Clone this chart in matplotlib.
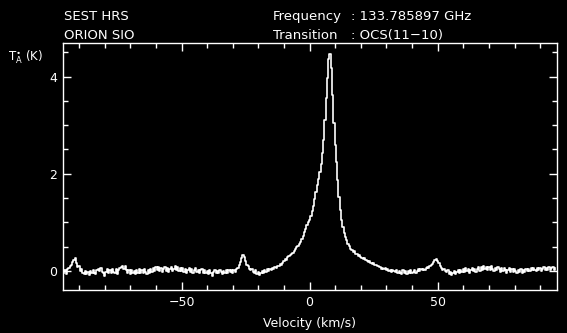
import numpy as np
import matplotlib.pyplot as plt
from matplotlib.ticker import MultipleLocator

# OCS(11-10) spectrum towards Orion, SEST HRS backend
# channel grid: 0.5 km/s starting at -96 km/s
v_start = -96.0
dv = 0.5

ta = [
    -0.05, 0.03, -0.06, 0.04, 0.07, 0.10, 0.13, 0.18, 0.22, 0.26,
    0.16, 0.08, 0.10, 0.00, 0.04, -0.05, -0.07, 0.01, -0.06, -0.02,
    -0.08, 0.01, -0.05, 0.03, -0.04, -0.07, 0.02, 0.05, 0.00, 0.06,
    -0.01, -0.05, -0.11, -0.02, 0.04, -0.03, 0.03, -0.05, 0.05, -0.01,
    -0.04, 0.04, -0.06, 0.02, 0.06, 0.09, 0.11, 0.05, 0.10, 0.02,
    -0.04, 0.02, -0.06, 0.03, -0.05, 0.01, -0.07, 0.03, -0.03, 0.04,
    -0.05, 0.02, -0.04, 0.05, -0.01, -0.06, 0.03, -0.03, 0.05, -0.01,
    0.07, 0.01, 0.08, 0.02, 0.09, 0.00, 0.07, -0.01, 0.05, 0.08,
    0.01, 0.07, -0.01, 0.04, 0.08, 0.00, 0.05, 0.10, 0.03, 0.08,
    0.01, 0.07, 0.00, 0.06, -0.01, 0.04, -0.03, 0.03, 0.06, -0.02,
    0.04, -0.04, 0.02, 0.06, -0.02, 0.03, -0.05, 0.02, 0.05, -0.03,
    0.03, -0.04, 0.01, -0.06, 0.02, -0.05, -0.10, -0.02, 0.02, -0.05,
    0.01, -0.05, 0.03, -0.02, -0.06, 0.01, -0.04, 0.02, -0.05, 0.03,
    -0.02, 0.02, -0.04, 0.03, -0.01, 0.05, 0.07, 0.12, 0.19, 0.26,
    0.33, 0.29, 0.21, 0.13, 0.10, 0.04, 0.03, 0.05, -0.01, -0.03,
    0.02, -0.06, -0.02, -0.08, -0.03, 0.01, -0.04, 0.03, -0.01, 0.04,
    0.01, 0.04, 0.02, 0.06, 0.05, 0.09, 0.07, 0.11, 0.10, 0.14,
    0.13, 0.17, 0.20, 0.24, 0.23, 0.28, 0.30, 0.33, 0.36, 0.38,
    0.42, 0.46, 0.49, 0.52, 0.55, 0.60, 0.66, 0.72, 0.80, 0.87,
    0.94, 1.00, 1.06, 1.14, 1.23, 1.34, 1.48, 1.62, 1.76, 1.90,
    2.03, 2.20, 2.42, 2.70, 3.10, 3.55, 3.98, 4.36, 4.46, 4.18,
    3.62, 3.05, 2.60, 2.24, 1.88, 1.52, 1.26, 1.06, 0.91, 0.79,
    0.69, 0.63, 0.56, 0.51, 0.46, 0.44, 0.40, 0.41, 0.36, 0.35,
    0.31, 0.33, 0.28, 0.27, 0.24, 0.26, 0.23, 0.21, 0.18, 0.20,
    0.17, 0.15, 0.16, 0.12, 0.13, 0.10, 0.11, 0.08, 0.05, 0.07,
    0.04, 0.06, 0.03, 0.05, 0.01, 0.03, -0.01, 0.02, 0.00, -0.02,
    0.02, -0.05, 0.01, -0.04, -0.07, 0.02, -0.05, 0.00, -0.06, 0.01,
    -0.04, 0.02, -0.05, -0.01, 0.03, -0.04, 0.01, 0.04, 0.00, 0.05,
    0.02, 0.05, 0.03, 0.06, 0.08, 0.07, 0.10, 0.13, 0.15, 0.19,
    0.22, 0.24, 0.20, 0.16, 0.11, 0.07, 0.03, 0.05, 0.00, -0.02,
    0.02, -0.06, -0.01, -0.08, -0.03, 0.01, -0.07, -0.02, 0.02, -0.05,
    0.03, -0.02, 0.04, -0.01, 0.06, 0.00, 0.04, -0.03, 0.03, 0.06,
    0.00, 0.05, -0.01, 0.04, 0.08, 0.01, 0.09, 0.03, 0.10, 0.04,
    0.09, 0.02, 0.08, 0.03, 0.10, 0.04, 0.01, 0.07, 0.02, 0.08,
    0.05, -0.01, 0.06, 0.01, 0.07, 0.02, -0.03, 0.03, 0.06, -0.01,
    0.04, -0.02, 0.05, 0.00, -0.04, 0.03, -0.01, 0.04, -0.03, 0.03,
    -0.01, 0.04, 0.00, 0.05, 0.01, 0.07, 0.02, 0.07, 0.03, 0.01,
    0.06, 0.02, 0.07, 0.01, 0.05, 0.08, 0.02, 0.06, 0.03, 0.08,
    0.02, 0.06, 0.09, 0.03, 0.07,
]

velocity = v_start + dv * np.arange(len(ta))

header_left = ["SEST HRS", "ORION SIO"]
header_keys = ["Frequency", "Transition"]
header_vals = [": 133.785897 GHz", ": OCS(11\u221210)"]

fg = "white"
plt.rcParams["font.family"] = "DejaVu Sans"

fig = plt.figure(figsize=(5.67, 3.33), dpi=100, facecolor="black")
ax = fig.add_axes([0.1111, 0.1291, 0.8704, 0.7418], facecolor="black")

ax.plot(velocity, ta, color=fg, lw=1.2, drawstyle="steps-mid")

ax.set_xlim(-96.3, 96.4)
ax.set_ylim(-0.39, 4.69)

ax.xaxis.set_major_locator(MultipleLocator(50))
ax.xaxis.set_minor_locator(MultipleLocator(10))
ax.yaxis.set_major_locator(MultipleLocator(2))
ax.yaxis.set_minor_locator(MultipleLocator(0.5))

ax.tick_params(which="both", direction="in", top=True, right=True,
               color=fg, labelcolor=fg, labelsize=9, width=1.0)
ax.tick_params(which="major", length=6, pad=4)
ax.tick_params(which="minor", length=3.5)
for s in ax.spines.values():
    s.set_color(fg)
    s.set_linewidth(1.0)

ax.set_xlabel("Velocity (km/s)", color=fg, fontsize=9, labelpad=6)

# header lines above the frame
for i in range(2):
    y = 1 - (20 + 19 * i) / 333
    fig.text(64 / 567, y, header_left[i], color=fg, fontsize=9.5, va="baseline")
    fig.text(273 / 567, y, header_keys[i], color=fg, fontsize=9.5, va="baseline")
    fig.text(351 / 567, y, header_vals[i], color=fg, fontsize=9.5, va="baseline")

fig.text(8 / 567, 1 - 60 / 333, r"$\mathrm{T}^{\bullet}_{\mathrm{A}}$ (K)",
         color=fg, fontsize=8.5, va="baseline")

fig.savefig("out.png", dpi=100, facecolor="black")
